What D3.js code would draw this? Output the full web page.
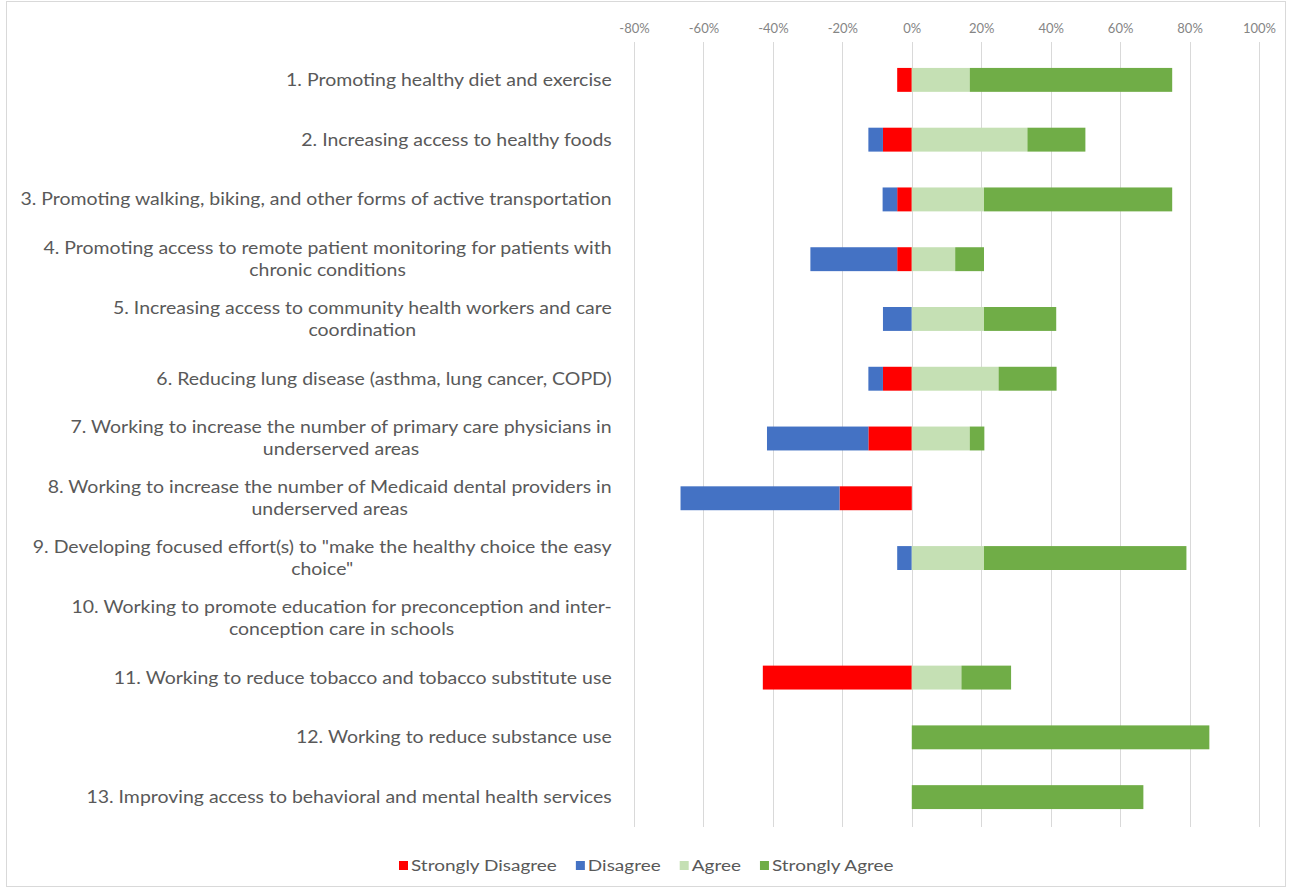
<!DOCTYPE html>
<html>
<head>
<meta charset="utf-8" />
<title>Priorities Survey</title>
<script src="https://d3js.org/d3.v7.min.js"></script>
<style>
	body { margin: 0; background: #fff; }
	text { font-family: Lato, 'Open Sans', sans-serif; fill: #595959; }
	.tick-label { font-size: 13px; fill: #858585; }
	.cat { font-size: 17px; }
	.legend text { font-size: 15px; }
</style>
</head>
<body>
<script>
	// category labels, split into lines as in the original
	var categories = [
		["1. Promoting healthy diet and exercise"],
		["2. Increasing access to healthy foods"],
		["3. Promoting walking, biking, and other forms of active transportation"],
		["4. Promoting access to remote patient monitoring for patients with", "chronic conditions"],
		["5. Increasing access to community health workers and care", "coordination"],
		["6. Reducing lung disease (asthma, lung cancer, COPD)"],
		["7. Working to increase the number of primary care physicians in", "underserved areas"],
		["8. Working to increase the number of Medicaid dental providers in", "underserved areas"],
		["9. Developing focused effort(s) to \"make the healthy choice the easy", "choice\""],
		["10. Working to promote education for preconception and inter-", "conception care in schools"],
		["11. Working to reduce tobacco and tobacco substitute use"],
		["12. Working to reduce substance use"],
		["13. Improving access to behavioral and mental health services"]
	];
	// percent of responses
	var stronglyDisagree = [4.2, 8.3, 4.2, 4.2, 0, 8.3, 12.5, 20.8, 0, 0, 42.9, 0, 0];
	var disagree         = [0, 4.2, 4.2, 25, 8.3, 4.2, 29.2, 45.8, 4.2, 0, 0, 0, 0];
	var agree            = [16.7, 33.3, 20.8, 12.5, 20.8, 25, 16.7, 0, 20.8, 0, 14.3, 0, 0];
	var stronglyAgree    = [58.3, 16.7, 54.2, 8.3, 20.8, 16.7, 4.2, 0, 58.3, 0, 14.3, 85.7, 66.7];
	var tickValues = [-80, -60, -40, -20, 0, 20, 40, 60, 80, 100];
	var seriesNames = ["Strongly Disagree", "Disagree", "Agree", "Strongly Agree"];
	var seriesColors = ["#ff0000", "#4472c4", "#c5e0b4", "#70ad47"];

	var width = 1291, height = 890;
	var svg = d3.select("body").append("svg")
		.attr("width", width)
		.attr("height", height);

	// chart border
	svg.append("rect")
		.attr("x", 6.5).attr("y", 1.5)
		.attr("width", 1279).attr("height", 885)
		.attr("fill", "none")
		.attr("stroke", "#d9d9d9");

	var x = d3.scaleLinear().domain([-80, 100]).range([634, 1259]);
	var y = d3.scaleBand()
		.domain(d3.range(categories.length))
		.range([50, 827])
		.paddingInner(0.6)
		.paddingOuter(0.3);

	//gridlines
	svg.append("g").selectAll("line")
		.data(tickValues).enter().append("line")
		.attr("x1", function(d) { return Math.round(x(d)) + 0.5; })
		.attr("x2", function(d) { return Math.round(x(d)) + 0.5; })
		.attr("y1", 42).attr("y2", 827)
		.attr("stroke", "#d9d9d9");

	//top axis labels
	var axis = d3.axisTop(x).tickValues(tickValues)
		.tickFormat(function(d) { return d + "%"; })
		.tickSize(0).tickPadding(0);
	var ax = svg.append("g").attr("transform", "translate(0,33)").call(axis);
	ax.select(".domain").remove();
	ax.selectAll("text").attr("class", "tick-label").attr("font-family", null).attr("font-size", null);

	// build segments for each row
	var rows = categories.map(function(c, i) {
		var sd = stronglyDisagree[i], di = disagree[i], ag = agree[i], sa = stronglyAgree[i];
		return [
			{ s: 0, x0: -sd, x1: 0, i: i },
			{ s: 1, x0: -sd - di, x1: -sd, i: i },
			{ s: 2, x0: 0, x1: ag, i: i },
			{ s: 3, x0: ag, x1: ag + sa, i: i }
		].filter(function(d) { return d.x1 - d.x0 > 0; });
	});

	svg.append("g").selectAll("rect")
		.data(d3.merge(rows)).enter().append("rect")
		.attr("x", function(d) { return x(d.x0); })
		.attr("width", function(d) { return x(d.x1) - x(d.x0); })
		.attr("y", function(d) { return y(d.i); })
		.attr("height", y.bandwidth())
		.attr("fill", function(d) { return seriesColors[d.s]; });

	// category labels (wrapped lines centred in a right-aligned block)
	// the source image is a bit stretched sideways, so the labels get a horizontal scale
	var lineH = 22, rightEdge = 612;
	var labelG = svg.append("g");
	var labels = labelG.selectAll("g")
		.data(categories).enter().append("g");
	labels.each(function(lines, i) {
		var g = d3.select(this);
		var cy = y(i) + y.bandwidth() / 2;
		var texts = lines.map(function(l, k) {
			return g.append("text").attr("class", "cat")
				.attr("y", cy + (k - (lines.length - 1) / 2) * lineH)
				.attr("dy", "0.35em")
				.text(l);
		});
		var widths = texts.map(function(t) { return t.node().getComputedTextLength(); });
		var blockW = d3.max(widths);
		texts.forEach(function(t) {
			t.attr("text-anchor", "middle").attr("x", -blockW / 2);
		});
	});
	var longest = labels.filter(function(d, i) { return i === 2; }).select("text").node().getComputedTextLength();
	labelG.attr("transform", "translate(" + rightEdge + ",0) scale(" + (592 / longest) + ",1)");

	// legend
	var legend = svg.append("g").attr("class", "legend");
	var probe = legend.append("text").text("Strongly Disagree");
	var lk = 146 / probe.node().getComputedTextLength();
	probe.remove();
	var lx = 399, ly = 866;
	seriesNames.forEach(function(name, i) {
		legend.append("rect")
			.attr("x", lx).attr("y", ly - 5)
			.attr("width", 9).attr("height", 9)
			.attr("fill", seriesColors[i]);
		var t = legend.append("text")
			.attr("transform", "translate(" + (lx + 12) + "," + ly + ") scale(" + lk + ",1)")
			.attr("dy", "0.35em")
			.text(name);
		lx += 12 + t.node().getComputedTextLength() * lk + 19;
	});
</script>
</body>
</html>
